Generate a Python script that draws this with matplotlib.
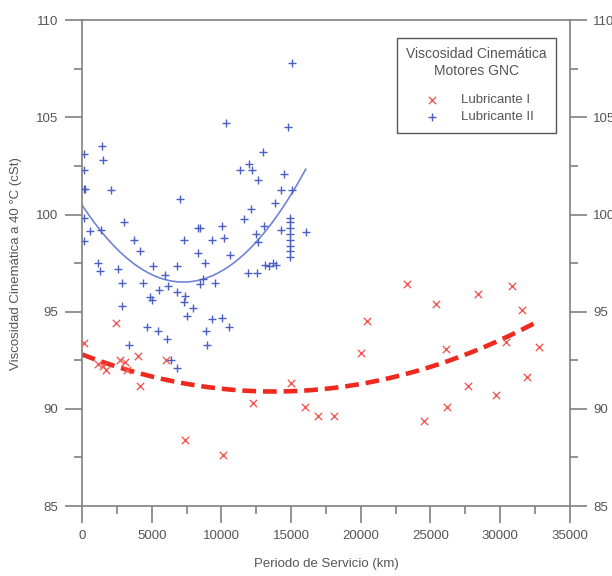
import numpy as np
import matplotlib
matplotlib.use('Agg')
import matplotlib.pyplot as plt
from matplotlib.ticker import MultipleLocator

# Lubricante I (x) - km, cSt
km_1 = [150, 1170, 1530, 1720, 2440, 2730, 3080, 3200, 4040, 4160, 6030, 7400,
        10090, 12240, 14990, 16000, 16950, 18100, 19990, 20470, 23340, 24560,
        25390, 26090, 26160, 27670, 28390, 29700, 30390, 30870, 31590, 31900, 32810]
visc_1 = [93.4, 92.3, 92.2, 92.0, 94.4, 92.5, 92.4, 92.0, 92.7, 91.2, 92.5, 88.4,
          87.6, 90.3, 91.35, 90.1, 89.65, 89.65, 92.85, 94.5, 96.4, 89.4,
          95.4, 93.1, 90.1, 91.2, 95.9, 90.7, 93.45, 96.3, 95.1, 91.65, 93.2]

# Lubricante II (+)
km_2 = [150, 150, 200, 150, 150, 150, 580, 1340, 1170, 1290, 1460, 1530, 2060,
        2600, 2850, 2850, 3030, 3400, 3750, 4160, 4350, 4640, 4880, 5000, 5120,
        5480, 5550, 5950, 6070, 6190, 6360, 6790, 6790, 6840, 7030, 7320, 7320,
        7390, 7510, 7940, 8350, 8350, 8460, 8460, 8700, 8820, 8890, 8940, 9300,
        9300, 9540, 10020, 10020, 10210, 10330, 10570, 10620, 11330, 11640, 11930,
        11980, 12100, 12170, 12460, 12530, 12600, 12650, 13010, 13080, 13100,
        13400, 13680, 13850, 13900, 14250, 14250, 14510, 14800, 14920, 14920,
        14920, 14920, 14920, 14920, 14920, 14920, 15040, 15040, 16050]
visc_2 = [103.1, 102.3, 101.3, 99.8, 98.65, 101.3, 99.15, 99.2, 97.5, 97.1, 103.5,
          102.8, 101.25, 97.2, 96.5, 95.3, 99.6, 93.3, 98.7, 98.1, 96.45, 94.2,
          95.75, 95.6, 97.35, 94.0, 96.1, 96.9, 93.6, 96.3, 92.5, 97.35, 96.0,
          92.1, 100.8, 98.7, 95.5, 95.8, 94.8, 95.2, 99.3, 98.0, 96.4, 99.3, 96.7,
          97.5, 94.0, 93.3, 98.7, 94.6, 96.45, 99.4, 94.65, 98.8, 104.7, 94.2,
          97.9, 102.3, 99.75, 97.0, 102.6, 100.3, 102.3, 99.0, 97.0, 101.8, 98.6,
          103.2, 99.4, 97.4, 97.35, 97.5, 100.6, 97.4, 101.25, 99.2, 102.1, 104.5,
          99.8, 99.6, 99.3, 99.0, 98.7, 98.4, 98.1, 97.8, 101.25, 107.8, 99.1]

grey = '#555555'
axis_grey = '#808080'
red_pt = '#f25a55'
red_ln = '#ee2a1e'
blue_pt = '#4a5fc4'
blue_ln = '#6f84d6'
fs = 9.5

plt.rcParams['font.family'] = ['Liberation Sans', 'DejaVu Sans']

fig = plt.figure(figsize=(6.12, 5.76), dpi=100)
ax = fig.add_axes([0.134, 0.1215, 0.797, 0.8435])

ax.scatter(km_1, visc_1, marker='x', s=28, color=red_pt, linewidths=1.0,
           label='Lubricante I', zorder=3)
ax.scatter(km_2, visc_2, marker='+', s=40, color=blue_pt, linewidths=1.0,
           label='Lubricante II', zorder=3)

# curvas de ajuste (polinomio de 2do grado)
c1 = np.polyfit(km_1, visc_1, 2)
xx1 = np.linspace(0, max(km_1), 200)
ax.plot(xx1, np.polyval(c1, xx1), color=red_ln, lw=3.3, dashes=(3, 1.5), zorder=2)
c2 = np.polyfit(km_2, visc_2, 2)
xx2 = np.linspace(0, max(km_2), 200)
ax.plot(xx2, np.polyval(c2, xx2), color=blue_ln, lw=1.2, zorder=2)

ax.set_xlim(0, 35000)
ax.set_ylim(85, 110)
ax.xaxis.set_major_locator(MultipleLocator(5000))
ax.xaxis.set_minor_locator(MultipleLocator(2500))
ax.yaxis.set_major_locator(MultipleLocator(5))
ax.yaxis.set_minor_locator(MultipleLocator(2.5))
ax.tick_params(which='both', direction='out', colors=axis_grey, labelcolor=grey,
               labelsize=fs, width=1.2, left=True, right=True,
               labelleft=True, labelright=True)
ax.tick_params(which='major', length=12, pad=5)
ax.tick_params(which='minor', length=6)
for s in ax.spines.values():
    s.set_color(axis_grey)
    s.set_linewidth(1.2)

ax.set_xlabel('Periodo de Servicio (km)', fontsize=fs, color=grey, labelpad=12)
ax.set_ylabel('Viscosidad Cinemática a 40 °C (cSt)', fontsize=fs, color=grey,
              labelpad=10)

leg = ax.legend(title='Viscosidad Cinemática\nMotores GNC', loc='upper right',
                bbox_to_anchor=(0.971, 0.963), fontsize=fs, title_fontsize=fs + 0.5,
                fancybox=False, edgecolor='#555555', framealpha=1,
                borderpad=0.7, labelspacing=0.35, handletextpad=1.2,
                borderaxespad=0, alignment='center')
leg.get_frame().set_linewidth(1.0)
for t in leg.get_texts():
    t.set_color(grey)
leg.get_title().set_color(grey)
leg.get_title().set_multialignment('center')
leg._legend_box.sep = 12

fig.savefig('out.png', dpi=100)
